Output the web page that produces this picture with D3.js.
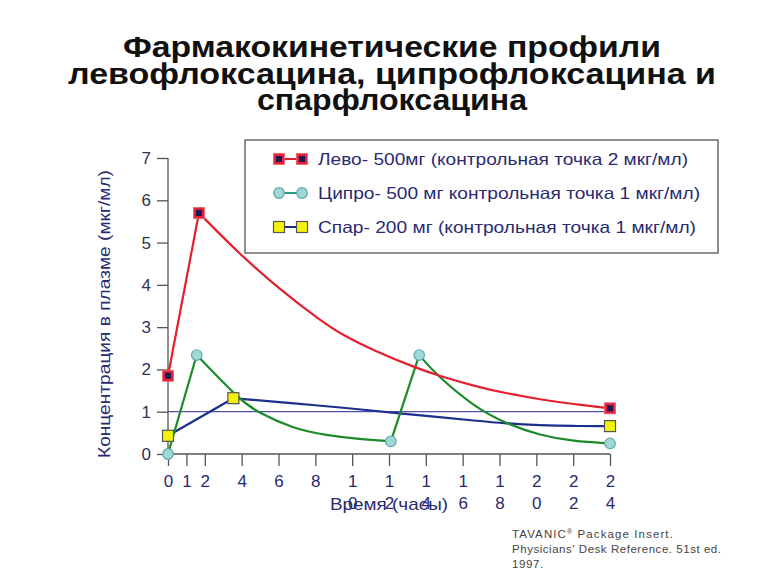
<!DOCTYPE html>
<html><head><meta charset="utf-8">
<script src="https://cdn.jsdelivr.net/npm/d3@7/dist/d3.min.js"></script>
<style>body{margin:0;background:#fff;} svg{display:block;font-family:"Liberation Sans",Arial,sans-serif;}</style>
</head><body><svg id="c" width="768" height="576"></svg>
<script>
// ---- data ----
const titleLines = ["Фармакокинетические профили", "левофлоксацина, ципрофлоксацина и", "спарфлоксацина"];
const yTitle = "Концентрация в плазме (мкг/мл)";
const xTitle = "Время (часы)";
const xTicks = [0, 1, 2, 4, 6, 8, 10, 12, 14, 16, 18, 20, 22, 24];
const yTicks = [0, 1, 2, 3, 4, 5, 6, 7];
const threshold = 1;
const legendLabels = ["Лево- 500мг (контрольная точка 2 мкг/мл)", "Ципро- 500 мг контрольная точка 1 мкг/мл)", "Спар- 200 мг (контрольная точка 1 мкг/мл)"];
const citation = ["TAVANIC", "Package Insert.", "Physicians' Desk Reference. 51st ed.", "1997."];

const levoT = [0, 1.68, 3.9, 6.1, 8.3, 9.4, 11.2, 13.5, 14.8, 16.6, 18.4, 20.2, 22.0, 24];
const levoC = [1.85, 5.70, 4.72, 3.88, 3.15, 2.83, 2.44, 2.03, 1.84, 1.61, 1.43, 1.29, 1.18, 1.08];
const levoKinks = [1];
const levoMarks = [0, 1, 13];

const ciproT = [0, 1.56, 3.9, 4.8, 6.8, 8.6, 10.4, 12.1, 13.64, 14.5, 16.6, 18.4, 20.2, 22.0, 24];
const ciproC = [0, 2.34, 1.28, 1.0, 0.60, 0.44, 0.35, 0.30, 2.34, 1.90, 1.12, 0.71, 0.44, 0.30, 0.25];
const ciproKinks = [1, 7, 8];
const ciproMarks = [0, 1, 7, 8, 14];

const sparT = [0, 3.55, 6.8, 9.4, 12.6, 14.8, 16.6, 18.4, 20.2, 22, 24];
const sparC = [0.43, 1.32, 1.20, 1.10, 0.96, 0.87, 0.79, 0.72, 0.68, 0.66, 0.66];
const sparKinks = [1];
const sparMarks = [0, 1, 10];

// ---- drawing ----
const svg = d3.select("#c");
const x = d3.scaleLinear().domain([0, 24]).range([168, 610]);
const y = d3.scaleLinear().domain([0, 7]).range([454, 158]);
const navy = "#2a2a70";

// title
const titleW = [538, 648, 270];
svg.append("g").selectAll("text").data(titleLines).join("text")
  .attr("x", 392).attr("y", (d, i) => 57 + i * 26.7)
  .attr("text-anchor", "middle").attr("font-size", 29.5).attr("font-weight", "bold")
  .attr("textLength", (d, i) => titleW[i]).attr("lengthAdjust", "spacingAndGlyphs")
  .attr("fill", "#111").text(d => d);

// axes
const yAxis = d3.axisLeft(y).tickValues(yTicks).tickSize(11).tickPadding(6).tickFormat(d3.format("d"));
const gy = svg.append("g").attr("transform", "translate(168,0)").call(yAxis);
gy.select(".domain").attr("stroke", "#555").attr("stroke-width", 1.3).attr("d", `M0,${y(7)}V${y(0)}`);
gy.selectAll(".tick line").attr("stroke", "#555").attr("stroke-width", 1.3);
gy.selectAll(".tick text").attr("font-size", 17).attr("fill", "#333350").attr("font-family", "Liberation Sans, Arial, sans-serif");

const xAxis = d3.axisBottom(x).tickValues(xTicks).tickSize(12).tickFormat(() => "");
const gx = svg.append("g").attr("transform", `translate(0,${y(0)})`).call(xAxis);
gx.select(".domain").attr("stroke", "#555").attr("stroke-width", 1.3).attr("d", `M${x(0)},0H${x(24)}`);
gx.selectAll(".tick line").attr("stroke", "#555").attr("stroke-width", 1.3);
gx.selectAll(".tick").each(function (d) {
  const chars = String(d).split("");
  d3.select(this).selectAll("text.dg").data(chars).join("text").attr("class", "dg")
    .attr("x", 0).attr("y", (c, i) => 33 + i * 22)
    .attr("text-anchor", "middle").attr("font-size", 17).attr("fill", navy)
    .attr("font-family", "Liberation Sans, Arial, sans-serif").text(c => c);
});

// axis titles
svg.append("text").attr("transform", `translate(110,314) rotate(-90)`)
  .attr("text-anchor", "middle").attr("font-size", 17).attr("fill", navy)
  .attr("textLength", 288).attr("lengthAdjust", "spacingAndGlyphs").text(yTitle);
svg.append("text").attr("x", 389).attr("y", 510).attr("text-anchor", "middle")
  .attr("font-size", 17).attr("fill", navy)
  .attr("textLength", 118).attr("lengthAdjust", "spacingAndGlyphs").text(xTitle);

// threshold line
svg.append("line").attr("x1", x(0)).attr("x2", x(24)).attr("y1", y(threshold)).attr("y2", y(threshold))
  .attr("stroke", "#5050a8").attr("stroke-width", 1.2);

function pieces(t, c, kinks) {
  const b = [0, ...kinks, t.length - 1];
  const out = [];
  for (let i = 0; i < b.length - 1; i++) {
    const seg = [];
    for (let j = b[i]; j <= b[i + 1]; j++) seg.push([t[j], c[j]]);
    out.push(seg);
  }
  return out;
}
const line = d3.line().x(d => x(d[0])).y(d => y(d[1])).curve(d3.curveBasis);

const series = [
  { t: sparT, c: sparC, k: sparKinks, m: sparMarks, color: "#1c2f8c", type: "spar" },
  { t: ciproT, c: ciproC, k: ciproKinks, m: ciproMarks, color: "#1d8a2a", type: "cipro" },
  { t: levoT, c: levoC, k: levoKinks, m: levoMarks, color: "#e4202e", type: "levo" }
];

function marker(g, type, cx, cy) {
  if (type === "levo") {
    g.append("rect").attr("x", cx - 5.5).attr("y", cy - 5.5).attr("width", 11).attr("height", 11)
      .attr("fill", "#e4203a").attr("stroke", "#f06070").attr("stroke-width", 0.8);
    g.append("rect").attr("x", cx - 3).attr("y", cy - 3).attr("width", 6).attr("height", 6).attr("fill", "#1a1a55");
  } else if (type === "cipro") {
    g.append("circle").attr("cx", cx).attr("cy", cy).attr("r", 5.3)
      .attr("fill", "#a0d8d8").attr("stroke", "#60a8a8").attr("stroke-width", 1.2);
  } else {
    g.append("rect").attr("x", cx - 5.5).attr("y", cy - 5.5).attr("width", 11).attr("height", 11)
      .attr("fill", "#f4f20a").attr("stroke", "#555").attr("stroke-width", 1.2);
  }
}

series.forEach(s => {
  const g = svg.append("g");
  pieces(s.t, s.c, s.k).forEach(p => {
    g.append("path").attr("d", line(p)).attr("fill", "none").attr("stroke", s.color).attr("stroke-width", 2.2);
  });
});
series.forEach(s => {
  const g = svg.append("g");
  s.m.forEach(i => marker(g, s.type, x(s.t[i]), y(s.c[i])));
});

// legend
const lg = svg.append("g");
lg.append("rect").attr("x", 245).attr("y", 140).attr("width", 473).attr("height", 113)
  .attr("fill", "#fff").attr("stroke", "#555").attr("stroke-width", 1.3);
const legColors = ["#e4202e", "#2a9a8a", "#1c2f8c"];
const legTypes = ["levo", "cipro", "spar"];
const legY = [159, 193, 227];
const legW = [370, 382, 378];
legendLabels.forEach((lab, i) => {
  lg.append("line").attr("x1", 279).attr("x2", 302).attr("y1", legY[i]).attr("y2", legY[i])
    .attr("stroke", legColors[i]).attr("stroke-width", 2);
  marker(lg, legTypes[i], 279, legY[i]);
  marker(lg, legTypes[i], 302, legY[i]);
  lg.append("text").attr("x", 318).attr("y", legY[i] + 6).attr("font-size", 16.5).attr("fill", navy)
    .attr("textLength", legW[i]).attr("lengthAdjust", "spacingAndGlyphs").text(lab);
});

// citation
const ct = svg.append("g").attr("font-size", 11.5).attr("fill", "#444");
const t1 = ct.append("text").attr("x", 512).attr("y", 538).attr("letter-spacing", 1.1);
t1.append("tspan").text(citation[0]);
t1.append("tspan").attr("font-size", 7).attr("dy", -4).text("®");
t1.append("tspan").attr("dy", 4).text(" " + citation[1]);
ct.append("text").attr("x", 512).attr("y", 553).attr("textLength", 209).attr("lengthAdjust", "spacing").text(citation[2]);
ct.append("text").attr("x", 512).attr("y", 568).attr("letter-spacing", 0.6).text(citation[3]);
</script></body></html>
